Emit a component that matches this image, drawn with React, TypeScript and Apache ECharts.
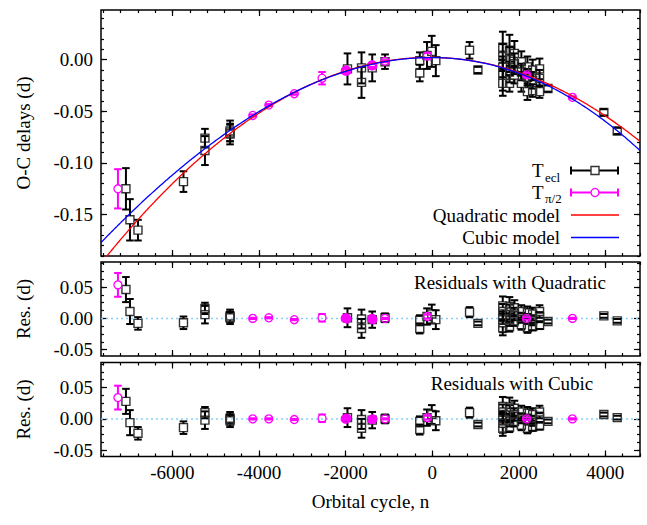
import React, { useEffect, useRef } from "react";
import * as echarts from "echarts";

// ---- Data ----
// T_ecl (black squares): cycle, O-C (d), error (d), residual quadratic, residual cubic
const eclN = [-7074, -6981, -6796, -5745, -5249, -5249, -4669, -4669, -4669, -1957, -1632, -1632, -1385, -1090, -287, -287, -120, -10, 84, 863, 1056,
  1630, 1630, 1630, 1630, 1630, 1786, 1786, 1786, 1786, 1900, 1900, 1900, 2060, 2060, 2060, 2200, 2200, 2200, 2320, 2320, 2320, 2480, 2480, 2480, 2674, 3965, 4274];
const eclOC = [-0.125, -0.155, -0.165, -0.118, -0.076, -0.088, -0.069, -0.071, -0.072, -0.009, -0.008, -0.022, -0.008, -0.002, -0.001, -0.013, 0.004, 0.008, -0.001, 0.009, -0.010,
  0.012, 0.003, -0.007, -0.015, -0.023, 0.009, 0.000, -0.012, -0.023, 0.006, -0.004, -0.015, -0.002, -0.012, -0.023, -0.007, -0.017, -0.031, -0.010, -0.020, -0.030, -0.009, -0.018, -0.031, -0.028, -0.051, -0.069];
const eclErr = [0.020, 0.020, 0.010, 0.010, 0.009, 0.014, 0.010, 0.008, 0.010, 0.015, 0.015, 0.015, 0.013, 0.007, 0.008, 0.008, 0.013, 0.015, 0.015, 0.008, 0.003,
  0.015, 0.012, 0.010, 0.015, 0.012, 0.015, 0.012, 0.010, 0.008, 0.012, 0.010, 0.008, 0.010, 0.008, 0.008, 0.010, 0.008, 0.008, 0.010, 0.008, 0.006, 0.010, 0.008, 0.006, 0.003, 0.003, 0.003];
const eclResQ = [0.046, 0.011, -0.008, -0.007, 0.016, 0.006, 0.004, 0.002, 0.001, 0.001, -0.001, -0.016, -0.002, 0.001, -0.003, -0.016, 0.003, 0.007, -0.002, 0.010, -0.008,
  0.020, 0.011, 0.001, -0.007, -0.015, 0.019, 0.010, -0.002, -0.013, 0.017, 0.007, -0.004, 0.011, 0.001, -0.010, 0.009, -0.001, -0.015, 0.007, -0.003, -0.013, 0.011, 0.002, -0.011, -0.005, 0.004, -0.004];
const eclResC = [0.028, -0.006, -0.023, -0.014, 0.010, -0.002, 0.001, -0.001, -0.003, 0.002, -0.001, -0.015, -0.002, 0.000, -0.004, -0.017, 0.002, 0.007, -0.003, 0.010, -0.009,
  0.020, 0.011, 0.001, -0.007, -0.015, 0.019, 0.010, -0.002, -0.013, 0.017, 0.007, -0.004, 0.011, 0.001, -0.010, 0.009, -0.001, -0.015, 0.007, -0.003, -0.013, 0.011, 0.002, -0.011, -0.004, 0.007, 0.002];

// T_pi/2 (magenta circles)
const piN = [-7259, -4145, -3774, -3185, -2544, -2010, -1990, -1970, -1400, -1385, -1370, -1090, -110, 2180, 3239];
const piOC = [-0.125, -0.054, -0.044, -0.033, -0.018, -0.011, -0.010, -0.011, -0.006, -0.005, -0.006, -0.0015, 0.0035, -0.0148, -0.0365];
const piErr = [0.019, 0.001, 0.001, 0.001, 0.006, 0.002, 0.002, 0.002, 0.002, 0.002, 0.002, 0.001, 0.003, 0.002, 0.001];
const piResQ = [0.0535, 0.000, 0.001, -0.002, 0.001, 0.000, 0.001, -0.001, -0.001, 0.000, -0.002, 0.000, 0.003, 0.000, 0.000];
const piResC = [0.034, 0.000, 0.000, -0.001, 0.001, 0.000, 0.000, 0.001, -0.001, -0.001, 0.000, 0.000, 0.002, 0.000, 0.000];

// Model coefficients (argument: cycle / 1000)
const quadCoef = [0.0021, -3.5e-4, -3.45e-3];
const cubicCoef = [0.002, -1.84e-4, -3.5653e-3, -6.306e-5];

// Axes
const X_MIN = -7650, X_MAX = 4800;
const xMajorTicks = [-6000, -4000, -2000, 0, 2000, 4000];
const TOP_MIN = -0.19, TOP_MAX = 0.048;
const yTopTicks = [-0.15, -0.1, -0.05, 0.0];
const RES_MIN = -0.06, RES_MAX = 0.09;
const yResTicks = [-0.05, 0.0, 0.05];

const FONT = "'Liberation Serif', 'Times New Roman', Times, serif";
const FS = 19;

function range(a: number, b: number, step: number) {
  const out: number[] = [];
  for (let v = a; v <= b + step * 1e-6; v += step) out.push(Math.round(v * 1e6) / 1e6);
  return out;
}
const xMinorTicks = range(-7600, 4800, 400);
const yTopMinor = range(-0.19, 0.04, 0.01);
const yResMinor = range(-0.05, 0.0875, 0.0125);

function poly(c: number[], n: number) {
  const u = n / 1000;
  let s = 0;
  for (let i = c.length - 1; i >= 0; i--) s = s * u + c[i];
  return s;
}
const modelN = range(X_MIN, X_MAX, 25);

function makeXAxes(gridIndex: number, labels: boolean, name?: string) {
  const base = (pos: string, ticks: number[], len: number, lab: boolean) => ({
    type: "value",
    gridIndex,
    position: pos,
    min: X_MIN,
    max: X_MAX,
    axisLine: { show: false, onZero: false },
    splitLine: { show: false },
    axisTick: { show: true, inside: true, length: len, customValues: ticks, lineStyle: { color: "#000", width: 1.2 } },
    axisLabel: lab
      ? { show: true, customValues: xMajorTicks, margin: 6, color: "#000", fontFamily: FONT, fontSize: FS, formatter: (v: number) => String(v) }
      : { show: false },
  });
  const a: any = base("bottom", xMajorTicks, 6, labels);
  if (name) {
    a.name = name;
    a.nameLocation = "middle";
    a.nameGap = 35;
    a.nameTextStyle = { color: "#000", fontFamily: FONT, fontSize: FS };
  }
  return [a, base("bottom", xMinorTicks, 3, false), base("top", xMajorTicks, 6, false), base("top", xMinorTicks, 3, false)];
}

function makeYAxes(gridIndex: number, min: number, max: number, major: number[], minor: number[], name: string) {
  const base = (pos: string, ticks: number[], len: number, lab: boolean) => ({
    type: "value",
    gridIndex,
    position: pos,
    min,
    max,
    axisLine: { show: false, onZero: false },
    splitLine: { show: false },
    axisTick: { show: true, inside: true, length: len, customValues: ticks, lineStyle: { color: "#000", width: 1.2 } },
    axisLabel: lab
      ? { show: true, customValues: major, margin: 8, color: "#000", fontFamily: FONT, fontSize: FS, formatter: (v: number) => v.toFixed(2) }
      : { show: false },
  });
  const a: any = base("left", major, 6, true);
  a.name = name;
  a.nameLocation = "middle";
  a.nameGap = 68;
  a.nameTextStyle = { color: "#000", fontFamily: FONT, fontSize: FS };
  return [a, base("left", minor, 3, false), base("right", major, 6, false), base("right", minor, 3, false)];
}

function errorRender(kind: "square" | "circle", color: string, markColor: string) {
  return (params: any, api: any) => {
    const n = api.value(0), v = api.value(1), e = api.value(2);
    const c = api.coord([n, v]);
    const t = api.coord([n, v + e]);
    const b = api.coord([n, v - e]);
    const hs = 4, cap = 3.8;
    const ls = { stroke: color, lineWidth: 2 };
    const children: any[] = [];
    if (kind === "square") {
      children.push({ type: "rect", shape: { x: c[0] - hs, y: c[1] - hs, width: 2 * hs, height: 2 * hs }, style: { fill: "none", stroke: markColor, lineWidth: 1.4 } });
    } else {
      children.push({ type: "circle", shape: { cx: c[0], cy: c[1], r: hs }, style: { fill: "none", stroke: markColor, lineWidth: 1.3 } });
    }
    if (t[1] < c[1] - hs) children.push({ type: "line", shape: { x1: c[0], y1: t[1], x2: c[0], y2: c[1] - hs }, style: ls });
    if (b[1] > c[1] + hs) children.push({ type: "line", shape: { x1: c[0], y1: c[1] + hs, x2: c[0], y2: b[1] }, style: ls });
    children.push({ type: "line", shape: { x1: c[0] - cap, y1: t[1], x2: c[0] + cap, y2: t[1] }, style: ls });
    children.push({ type: "line", shape: { x1: c[0] - cap, y1: b[1], x2: c[0] + cap, y2: b[1] }, style: ls });
    return { type: "group", children };
  };
}

function pointSeries(ax: number, ns: number[], vals: number[], errs: number[], kind: "square" | "circle", z: number) {
  const isSq = kind === "square";
  return {
    type: "custom",
    xAxisIndex: ax,
    yAxisIndex: ax,
    z,
    renderItem: errorRender(kind, isSq ? "#000" : "#ff00ff", isSq ? "#333" : "#ff00ff"),
    encode: { x: 0, y: 1 },
    data: ns.map((n, i) => [n, vals[i], errs[i]]),
  };
}

function zeroLine(ax: number) {
  return {
    type: "line",
    xAxisIndex: ax,
    yAxisIndex: ax,
    z: 1,
    showSymbol: false,
    data: [[X_MIN, 0], [X_MAX, 0]],
    lineStyle: { color: "#87cefa", width: 1.5, type: [2, 3] },
    silent: true,
  };
}

export default function App() {
  const ref = useRef<HTMLDivElement>(null);
  useEffect(() => {
    if (!ref.current) return;
    const chart = echarts.init(ref.current, null, { renderer: "svg" });
    const GL = 101, GW = 539;
    const font = (s: number) => `${s}px ${FONT}`;
    const option: any = {
      animation: false,
      backgroundColor: "#fff",
      textStyle: { fontFamily: FONT },
      grid: [
        { left: GL, top: 10, width: GW, height: 246, show: true, borderColor: "#000", borderWidth: 1.5, backgroundColor: "transparent" },
        { left: GL, top: 262, width: GW, height: 94, show: true, borderColor: "#000", borderWidth: 1.5, backgroundColor: "transparent" },
        { left: GL, top: 362.5, width: GW, height: 94, show: true, borderColor: "#000", borderWidth: 1.5, backgroundColor: "transparent" },
      ],
      xAxis: [...makeXAxes(0, false), ...makeXAxes(1, false), ...makeXAxes(2, true, "Orbital cycle, n")],
      yAxis: [
        ...makeYAxes(0, TOP_MIN, TOP_MAX, yTopTicks, yTopMinor, "O-C delays (d)"),
        ...makeYAxes(1, RES_MIN, RES_MAX, yResTicks, yResMinor, "Res. (d)"),
        ...makeYAxes(2, RES_MIN, RES_MAX, yResTicks, yResMinor, "Res. (d)"),
      ],
      series: [
        pointSeries(0, eclN, eclOC, eclErr, "square", 2),
        pointSeries(0, piN, piOC, piErr, "circle", 3),
        {
          type: "line", xAxisIndex: 0, yAxisIndex: 0, z: 5, showSymbol: false, silent: true,
          data: modelN.map((n) => [n, poly(quadCoef, n)]),
          lineStyle: { color: "#ff0000", width: 1.3 },
        },
        {
          type: "line", xAxisIndex: 0, yAxisIndex: 0, z: 6, showSymbol: false, silent: true,
          data: modelN.map((n) => [n, poly(cubicCoef, n)]),
          lineStyle: { color: "#0000ff", width: 1.3 },
        },
        zeroLine(4),
        pointSeries(4, eclN, eclResQ, eclErr, "square", 2),
        pointSeries(4, piN, piResQ, piErr, "circle", 3),
        zeroLine(8),
        pointSeries(8, eclN, eclResC, eclErr, "square", 2),
        pointSeries(8, piN, piResC, piErr, "circle", 3),
      ],
      graphic: [
        // legend
        { type: "text", left: 532, top: 161, style: { text: "T", font: font(FS), fill: "#000" } },
        { type: "text", left: 545, top: 171, style: { text: "ecl", font: font(13), fill: "#000" } },
        { type: "line", shape: { x1: 571, y1: 170.5, x2: 618, y2: 170.5 }, style: { stroke: "#000", lineWidth: 2 } },
        { type: "line", shape: { x1: 571, y1: 166.5, x2: 571, y2: 174.5 }, style: { stroke: "#000", lineWidth: 2 } },
        { type: "line", shape: { x1: 618, y1: 166.5, x2: 618, y2: 174.5 }, style: { stroke: "#000", lineWidth: 2 } },
        { type: "rect", shape: { x: 591, y: 166.5, width: 8, height: 8 }, style: { fill: "#fff", stroke: "#333", lineWidth: 1.4 } },
        { type: "text", left: 532, top: 183, style: { text: "T", font: font(FS), fill: "#000" } },
        { type: "text", left: 545, top: 192, style: { text: "π/2", font: font(13), fill: "#000" } },
        { type: "line", shape: { x1: 571, y1: 192.5, x2: 618, y2: 192.5 }, style: { stroke: "#ff00ff", lineWidth: 2 } },
        { type: "line", shape: { x1: 571, y1: 188.5, x2: 571, y2: 196.5 }, style: { stroke: "#ff00ff", lineWidth: 2 } },
        { type: "line", shape: { x1: 618, y1: 188.5, x2: 618, y2: 196.5 }, style: { stroke: "#ff00ff", lineWidth: 2 } },
        { type: "circle", shape: { cx: 595, cy: 192.5, r: 4 }, style: { fill: "#fff", stroke: "#ff00ff", lineWidth: 1.3 } },
        { type: "text", right: 647 - 560, top: 206, style: { text: "Quadratic model", font: font(FS), fill: "#000" } },
        { type: "line", shape: { x1: 571, y1: 215, x2: 619, y2: 215 }, style: { stroke: "#ff0000", lineWidth: 1.5 } },
        { type: "text", right: 647 - 560, top: 228, style: { text: "Cubic model", font: font(FS), fill: "#000" } },
        { type: "line", shape: { x1: 571, y1: 237.5, x2: 619, y2: 237.5 }, style: { stroke: "#0000ff", lineWidth: 1.5 } },
        // panel titles
        { type: "text", x: 510, y: 282, style: { text: "Residuals with Quadratic", font: font(FS), fill: "#000", align: "center", verticalAlign: "middle" } },
        { type: "text", x: 512, y: 383, style: { text: "Residuals with Cubic", font: font(FS), fill: "#000", align: "center", verticalAlign: "middle" } },
      ],
    };
    chart.setOption(option);
    return () => chart.dispose();
  }, []);
  return <div ref={ref} style={{ position: "absolute", left: 0, top: 0, width: 647, height: 525 }} />;
}
